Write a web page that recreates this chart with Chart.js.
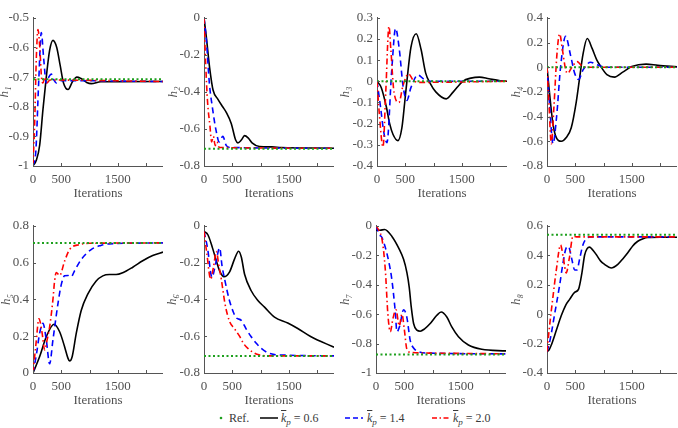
<!DOCTYPE html>
<html><head><meta charset="utf-8">
<script src="https://cdn.jsdelivr.net/npm/chart.js@4.4.1/dist/chart.umd.min.js"></script>
<style>
html,body{margin:0;padding:0;background:#fff;}
body{width:678px;height:428px;position:relative;overflow:hidden;font-family:"Liberation Serif",serif;}
canvas{position:absolute;}
#legend{position:absolute;left:0;top:0;width:678px;height:428px;color:#3a3a3a;font-size:12px;}
#legend .t{position:absolute;top:411px;white-space:nowrap;line-height:14px;}
#legend .t i.k{text-decoration:overline;}
#legend .t .sub{font-size:9px;position:relative;top:3px;font-style:italic;}
#legend svg{position:absolute;left:0;top:0;}
</style></head><body>
<div id="legend">
<svg width="678" height="428">
  <circle cx="221" cy="418" r="1.3" fill="#1ea01e"/>
  <line x1="260" y1="418" x2="278" y2="418" stroke="#000" stroke-width="1.5"/>
  <line x1="345" y1="418" x2="363" y2="418" stroke="#0000ff" stroke-width="1.5" stroke-dasharray="5,3"/>
  <line x1="432" y1="418" x2="450" y2="418" stroke="#ff0000" stroke-width="1.5" stroke-dasharray="5,2.5,1.5,2.5"/>
</svg>
<span class="t" style="left:229px">Ref.</span>
<span class="t" style="left:281px"><i class="k">k</i><span class="sub">p</span> = 0.6</span>
<span class="t" style="left:367px"><i class="k">k</i><span class="sub">p</span> = 1.4</span>
<span class="t" style="left:453px"><i class="k">k</i><span class="sub">p</span> = 2.0</span>
</div>
<script>
// ---------- shared axis values ----------
const iterTicks = [0, 500, 1000, 1500, 2000];
const iterLabels = ['0', '500', '', '1500', ''];
const iterMax = 2300;

const yTicksH1 = [-1, -0.9, -0.8, -0.7, -0.6, -0.5];
const yTicksH2 = [-0.8, -0.6, -0.4, -0.2, 0];
const yTicksH3 = [-0.4, -0.3, -0.2, -0.1, 0, 0.1, 0.2, 0.3];
const yTicksH4 = [-0.8, -0.6, -0.4, -0.2, 0, 0.2, 0.4];
const yTicksH5 = [0, 0.2, 0.4, 0.6, 0.8];
const yTicksH6 = [-0.8, -0.6, -0.4, -0.2, 0];
const yTicksH7 = [-1, -0.8, -0.6, -0.4, -0.2, 0];
const yTicksH8 = [-0.4, -0.2, 0, 0.2, 0.4, 0.6];

// reference values (Ref.)
const refValues = [-0.707, -0.707, 0, 0, 0.707, -0.707, -0.875, 0.54];

// ---------- series: [iteration, value] ----------
const h1_k06 = [[0,-1],[60,-0.98],[118,-0.93],[176,-0.81],[235,-0.70],[294,-0.61],[353,-0.576],[420,-0.60],[480,-0.66],[540,-0.72],[620,-0.742],[700,-0.715],[776,-0.70],[850,-0.705],[950,-0.718],[1030,-0.722],[1200,-0.716],[2300,-0.715]];
const h1_k14 = [[0,-1],[50,-0.95],[100,-0.72],[147,-0.55],[190,-0.64],[235,-0.72],[280,-0.70],[324,-0.69],[370,-0.71],[412,-0.72],[500,-0.712],[2300,-0.715]];
const h1_k20 = [[0,-1],[30,-0.85],[60,-0.63],[88,-0.54],[120,-0.6],[150,-0.7],[176,-0.72],[210,-0.70],[245,-0.72],[300,-0.71],[2300,-0.715]];

const h2_k06 = [[0,0],[40,-0.10],[100,-0.27],[160,-0.39],[247,-0.44],[330,-0.48],[394,-0.51],[482,-0.57],[560,-0.66],[600,-0.675],[660,-0.66],[718,-0.636],[780,-0.648],[850,-0.675],[982,-0.695],[1200,-0.697],[1365,-0.70],[2300,-0.704]];
const h2_k14 = [[0,0],[42,-0.12],[94,-0.35],[156,-0.5],[208,-0.6],[270,-0.67],[333,-0.64],[395,-0.69],[470,-0.70],[2300,-0.704]];
const h2_k20 = [[0,0],[30,-0.25],[62,-0.45],[104,-0.58],[135,-0.67],[166,-0.64],[198,-0.69],[229,-0.67],[270,-0.70],[2300,-0.704]];

const h3_k06 = [[0,0],[76,-0.03],[165,-0.12],[224,-0.2],[282,-0.25],[371,-0.28],[440,-0.22],[490,-0.1],[529,0],[600,0.16],[694,0.225],[780,0.15],[860,0.04],[941,-0.01],[1040,-0.05],[1224,-0.083],[1350,-0.05],[1518,0],[1660,0.015],[1812,0.02],[1980,0.012],[2180,0.003],[2300,0]];
const h3_k14 = [[0,0],[62,-0.12],[120,-0.24],[176,-0.29],[260,0.05],[329,0.25],[395,0.15],[460,-0.02],[529,-0.09],[600,-0.03],[724,0.03],[830,0.01],[940,0],[2300,0]];
const h3_k20 = [[0,0],[40,-0.15],[106,-0.31],[155,-0.05],[212,0.26],[245,0.15],[300,-0.05],[388,-0.1],[460,-0.02],[559,0.035],[640,0.005],[740,-0.005],[2300,0]];

const h4_k06 = [[0,0],[47,-0.22],[106,-0.46],[165,-0.57],[253,-0.6],[341,-0.57],[429,-0.49],[518,-0.28],[576,-0.09],[635,0.1],[712,0.232],[800,0.15],[880,0.06],[960,0],[1060,-0.06],[1194,-0.08],[1340,-0.04],[1500,0.005],[1753,0.025],[1960,0.015],[2300,0.003]];
const h4_k14 = [[0,0],[45,-0.3],[106,-0.62],[170,-0.4],[240,0],[329,0.25],[415,0.1],[490,-0.05],[559,-0.1],[640,-0.02],[771,0.04],[880,0.02],[1040,0],[2300,0]];
const h4_k20 = [[0,0],[35,-0.3],[76,-0.62],[125,-0.3],[175,0.1],[224,0.27],[270,0.15],[330,-0.02],[365,-0.05],[440,0],[535,0.045],[620,0.01],[740,0],[2300,0]];

const h5_k06 = [[0,0],[118,0.09],[235,0.197],[371,0.265],[471,0.224],[559,0.143],[618,0.081],[647,0.065],[694,0.09],[765,0.215],[853,0.34],[971,0.43],[1118,0.50],[1235,0.528],[1353,0.535],[1471,0.535],[1588,0.545],[1765,0.575],[1941,0.61],[2118,0.638],[2300,0.657]];
const h5_k14 = [[0,0],[60,0.1],[120,0.22],[176,0.27],[235,0.18],[294,0.05],[353,0.18],[441,0.376],[500,0.48],[559,0.528],[620,0.53],[676,0.523],[735,0.555],[853,0.617],[1029,0.671],[1200,0.693],[1353,0.702],[2300,0.707]];
const h5_k20 = [[0,0],[50,0.15],[106,0.295],[160,0.22],[206,0.125],[250,0.18],[294,0.25],[353,0.4],[382,0.5],[412,0.546],[471,0.53],[559,0.608],[647,0.671],[824,0.698],[1000,0.705],[2300,0.707]];

const h6_k06 = [[0,-0.03],[71,-0.05],[150,-0.12],[218,-0.19],[276,-0.245],[353,-0.277],[453,-0.25],[541,-0.18],[612,-0.138],[660,-0.17],[718,-0.263],[835,-0.353],[953,-0.406],[1071,-0.442],[1247,-0.496],[1482,-0.528],[1659,-0.558],[1894,-0.603],[2300,-0.66]];
const h6_k14 = [[0,-0.03],[62,-0.12],[141,-0.28],[210,-0.2],[276,-0.12],[320,-0.22],[365,-0.29],[445,-0.4],[520,-0.47],[571,-0.5],[659,-0.514],[745,-0.56],[835,-0.603],[930,-0.64],[1012,-0.666],[1130,-0.69],[1247,-0.70],[1450,-0.703],[1650,-0.705],[2300,-0.707]];
const h6_k20 = [[0,-0.03],[50,-0.15],[118,-0.29],[170,-0.22],[218,-0.14],[265,-0.22],[306,-0.29],[375,-0.43],[453,-0.52],[540,-0.56],[629,-0.6],[700,-0.64],[776,-0.666],[953,-0.70],[1188,-0.707],[2300,-0.707]];

const h7_k06 = [[0,-0.03],[70,-0.03],[153,-0.025],[282,-0.072],[400,-0.15],[488,-0.228],[547,-0.318],[588,-0.418],[624,-0.553],[665,-0.664],[724,-0.709],[782,-0.716],[860,-0.7],[959,-0.664],[1076,-0.608],[1153,-0.586],[1253,-0.62],[1341,-0.687],[1459,-0.754],[1635,-0.81],[1871,-0.839],[2300,-0.85]];
const h7_k14 = [[0,0],[60,-0.06],[106,-0.08],[224,-0.24],[282,-0.37],[340,-0.58],[371,-0.72],[420,-0.68],[488,-0.57],[545,-0.62],[606,-0.78],[665,-0.83],[753,-0.855],[950,-0.865],[2300,-0.87]];
const h7_k20 = [[0,0],[50,-0.03],[110,-0.1],[165,-0.3],[210,-0.6],[253,-0.72],[300,-0.63],[353,-0.57],[412,-0.68],[459,-0.6],[500,-0.7],[547,-0.84],[620,-0.86],[1000,-0.865],[2300,-0.87]];

const h8_k06 = [[0,-0.255],[40,-0.24],[76,-0.21],[165,-0.11],[253,-0.01],[330,0.06],[400,0.10],[488,0.148],[559,0.17],[618,0.28],[665,0.40],[710,0.445],[753,0.455],[800,0.44],[871,0.405],[950,0.36],[1018,0.338],[1135,0.313],[1253,0.338],[1340,0.375],[1429,0.417],[1520,0.465],[1606,0.495],[1700,0.512],[1782,0.52],[2000,0.522],[2300,0.522]];
const h8_k14 = [[0,-0.255],[52,-0.18],[135,0],[225,0.2],[284,0.35],[340,0.45],[380,0.46],[435,0.38],[490,0.3],[530,0.3],[580,0.38],[635,0.47],[690,0.51],[760,0.525],[2300,0.525]];
const h8_k20 = [[0,-0.255],[40,-0.1],[100,0.1],[165,0.3],[240,0.47],[290,0.38],[340,0.28],[395,0.38],[460,0.53],[520,0.525],[2300,0.525]];

// ---------- styling / layout ----------
const FONT = '"Liberation Serif", "Times New Roman", serif';
const TXT = '#505050';
const AXIS = '#555';
const GREEN = '#1ea01e', BLUE = '#0000ff', RED = '#ff0000', BLACK = '#000000';
const PLOT_W = 130, PAD_TOP = 10, X_H = 35;

const panels = [
  {label:'h₁', yMin:-1,   yMax:-0.5, yTicks:yTicksH1, ref:refValues[0], k06:h1_k06, k14:h1_k14, k20:h1_k20, left:-3,  W:36, top:16,  plotH:150},
  {label:'h₂', yMin:-0.8, yMax:0,    yTicks:yTicksH2, ref:refValues[1], k06:h2_k06, k14:h2_k14, k20:h2_k20, left:166, W:38, top:16,  plotH:150},
  {label:'h₃', yMin:-0.4, yMax:0.3,  yTicks:yTicksH3, ref:refValues[2], k06:h3_k06, k14:h3_k14, k20:h3_k20, left:338, W:39, top:16,  plotH:150},
  {label:'h₄', yMin:-0.8, yMax:0.4,  yTicks:yTicksH4, ref:refValues[3], k06:h4_k06, k14:h4_k14, k20:h4_k20, left:509, W:38, top:16,  plotH:150},
  {label:'h₅', yMin:0,    yMax:0.8,  yTicks:yTicksH5, ref:refValues[4], k06:h5_k06, k14:h5_k14, k20:h5_k20, left:-1,  W:34, top:224, plotH:149},
  {label:'h₆', yMin:-0.8, yMax:0,    yTicks:yTicksH6, ref:refValues[5], k06:h6_k06, k14:h6_k14, k20:h6_k20, left:165, W:39, top:224, plotH:149},
  {label:'h₇', yMin:-1,   yMax:0,    yTicks:yTicksH7, ref:refValues[6], k06:h7_k06, k14:h7_k14, k20:h7_k20, left:338, W:38, top:224, plotH:149},
  {label:'h₈', yMin:-0.4, yMax:0.6,  yTicks:yTicksH8, ref:refValues[7], k06:h8_k06, k14:h8_k14, k20:h8_k20, left:509, W:38, top:224, plotH:149}
];

const toXY = arr => arr.map(([x, y]) => ({x, y}));

const inwardTicks = {
  id: 'inwardTicks',
  afterDraw(chart) {
    const {ctx, chartArea: a, scales: {x, y}} = chart;
    ctx.save();
    ctx.strokeStyle = AXIS;
    ctx.lineWidth = 1;
    ctx.beginPath();
    x.ticks.forEach(t => {
      const px = Math.round(x.getPixelForValue(t.value)) + 0.5;
      ctx.moveTo(px, a.bottom); ctx.lineTo(px, a.bottom - 3);
    });
    y.ticks.forEach(t => {
      const py = Math.round(y.getPixelForValue(t.value)) + 0.5;
      ctx.moveTo(a.left, py); ctx.lineTo(a.left + 3, py);
    });
    ctx.stroke();
    ctx.restore();
  }
};

panels.forEach(p => {
  const c = document.createElement('canvas');
  const width = p.W + PLOT_W;
  const height = PAD_TOP + p.plotH + X_H;
  c.width = width; c.height = height;
  c.style.width = width + 'px'; c.style.height = height + 'px';
  c.style.left = p.left + 'px'; c.style.top = (p.top - PAD_TOP) + 'px';
  document.body.appendChild(c);

  const lineBase = {pointRadius: 0, borderWidth: 1.6, fill: false, cubicInterpolationMode: 'monotone'};
  new Chart(c, {
    type: 'line',
    data: {datasets: [
      {label: 'Ref.', data: toXY([[0, p.ref], [iterMax, p.ref]]), borderColor: GREEN, borderDash: [2, 2.5], borderWidth: 2, pointRadius: 0, fill: false},
      Object.assign({label: 'kp = 2.0', data: toXY(p.k20), borderColor: RED, borderDash: [6, 3, 1.5, 3]}, lineBase),
      Object.assign({label: 'kp = 1.4', data: toXY(p.k14), borderColor: BLUE, borderDash: [6, 4]}, lineBase),
      Object.assign({label: 'kp = 0.6', data: toXY(p.k06), borderColor: BLACK}, lineBase)
    ]},
    options: {
      responsive: false, animation: false, devicePixelRatio: 1,
      layout: {padding: {top: PAD_TOP, right: 0, bottom: 0, left: 0}},
      plugins: {legend: {display: false}, tooltip: {enabled: false}},
      scales: {
        x: {
          type: 'linear', min: 0, max: iterMax,
          afterBuildTicks: s => { s.ticks = iterTicks.map(v => ({value: v})); },
          afterFit: s => { s.height = X_H; },
          grid: {display: false, drawTicks: false, tickLength: 0},
          border: {display: true, color: AXIS, width: 1},
          ticks: {autoSkip: false, maxRotation: 0, padding: 6, color: TXT,
                  font: {family: FONT, size: 13},
                  callback: (v, i) => iterLabels[i]},
          title: {display: true, text: 'Iterations', color: TXT,
                  font: {family: FONT, size: 13, lineHeight: 1.2}, padding: {top: 0, bottom: 0}}
        },
        y: {
          type: 'linear', min: p.yMin, max: p.yMax,
          afterBuildTicks: s => { s.ticks = p.yTicks.map(v => ({value: v})); },
          afterFit: s => { s.width = p.W; },
          grid: {display: false, drawTicks: false, tickLength: 0},
          border: {display: true, color: AXIS, width: 1},
          ticks: {autoSkip: false, padding: 4, color: TXT,
                  font: {family: FONT, size: 13},
                  callback: v => String(v)},
          title: {display: true, text: p.label, color: TXT,
                  font: {family: FONT, size: 13, style: 'italic', lineHeight: 1.2}, padding: {top: 0, bottom: 0}}
        }
      }
    },
    plugins: [inwardTicks]
  });
});
</script>
</body></html>
